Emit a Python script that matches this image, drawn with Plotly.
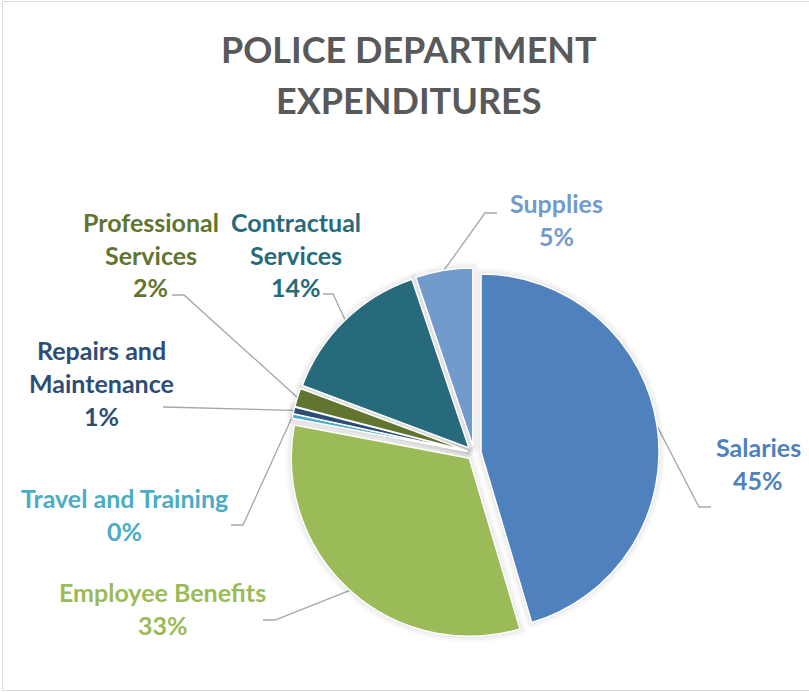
import math
import plotly.graph_objects as go

# ---- data -------------------------------------------------------------
categories = ["Salaries", "Employee Benefits", "Travel and Training",
              "Repairs and Maintenance", "Professional Services",
              "Contractual Services", "Supplies"]
shares = [45.4, 32.6, 0.4, 0.6, 1.7, 14.1, 5.2]
label_lines = [["Salaries"], ["Employee Benefits"], ["Travel and Training"],
               ["Repairs and", "Maintenance"], ["Professional", "Services"],
               ["Contractual", "Services"], ["Supplies"]]
slice_colors = ["#4F81BD", "#9BBB59", "#4BACC6", "#2C4D75",
                "#5F7530", "#276A7C", "#729ACA"]
title_lines = ["POLICE DEPARTMENT", "EXPENDITURES"]

# ---- layout constants (pixels) ----------------------------------------
W, H = 809, 692
CX, CY, R = 474, 453, 178          # pie centre and radius
PULL = 0.04                        # explosion, fraction of radius
FONT = "Lato"
LABEL_SIZE = 25
LINE_GAP = 33

# label block: centre x, centre y of first text line
label_pos = [(758, 446.5), (162.5, 591.5), (124.5, 497.5), (102, 349.5),
             (150.8, 221.5), (295.5, 221.5), (556.5, 203.5)]
# leader line points on the label side (text end, then elbow)
leader_pts = [[(711, 507), (699, 507)], [(263, 620), (275, 620)],
              [(231, 525), (243, 525)], [(163, 407)],
              [(172, 295), (184, 295)], [(323, 294), (333, 294)],
              [(497, 213), (485, 213)]]


def px(x):
    return x / W


def py(y):
    return 1 - y / H


half = R * (1 + PULL)
domain = dict(x=[px(CX - half), px(CX + half)], y=[py(CY + half), py(CY - half)])

fig = go.Figure()

# soft shadow under the slices
for width, alpha in [(12, 0.022), (8, 0.025), (4, 0.03)]:
    fig.add_trace(go.Pie(
        values=shares, labels=categories, sort=False, direction="clockwise",
        rotation=0, pull=[PULL] * len(shares), domain=domain,
        textinfo="none", hoverinfo="skip", showlegend=False,
        marker=dict(colors=["rgba(0,0,0,%s)" % alpha] * len(shares),
                    line=dict(color="rgba(0,0,0,%s)" % alpha, width=width)),
    ))

fig.add_trace(go.Pie(
    values=shares, labels=categories, sort=False, direction="clockwise",
    rotation=0, pull=[PULL] * len(shares), domain=domain,
    textinfo="none", showlegend=False,
    marker=dict(colors=slice_colors, line=dict(color="white", width=1.5)),
))

annotations = []
shapes = []

# title
for i, line in enumerate(title_lines):
    annotations.append(dict(
        x=px(408.5), y=py(48.5 + i * 51.5), xref="paper", yref="paper",
        text=line, showarrow=False, xanchor="center", yanchor="middle",
        font=dict(family=FONT, size=36, color="#595959", weight="bold")))

# data labels with leader lines
total = sum(shares)
start = 0.0
for name, v, lines, col, pos, pts in zip(categories, shares, label_lines,
                                         slice_colors, label_pos, leader_pts):
    mid = math.radians((start + v / 2) / total * 360)
    start += v
    ax = CX + R * (1 + PULL) * math.sin(mid)
    ay = CY - R * (1 + PULL) * math.cos(mid)
    text_lines = lines + ["%d%%" % round(v / total * 100)]
    for j, t in enumerate(text_lines):
        annotations.append(dict(
            x=px(pos[0]), y=py(pos[1] + j * LINE_GAP), xref="paper", yref="paper",
            text=t, showarrow=False, xanchor="center", yanchor="middle",
            font=dict(family=FONT, size=LABEL_SIZE, color=col, weight="bold")))
    path_pts = pts + [(ax, ay)]
    path = "M " + " L ".join("%f,%f" % (px(x), py(y)) for x, y in path_pts)
    shapes.append(dict(type="path", path=path, xref="paper", yref="paper",
                       line=dict(color="#A6A6A6", width=1.3), layer="below"))

# chart area border
shapes.append(dict(type="rect", xref="paper", yref="paper",
                   x0=px(2.5), x1=px(W + 5), y0=py(690.5), y1=py(1.5),
                   line=dict(color="#D9D9D9", width=1)))

fig.update_layout(
    width=W, height=H, margin=dict(l=0, r=0, t=0, b=0),
    paper_bgcolor="white", plot_bgcolor="white",
    annotations=annotations, shapes=shapes,
)

fig.write_html("out.html")
